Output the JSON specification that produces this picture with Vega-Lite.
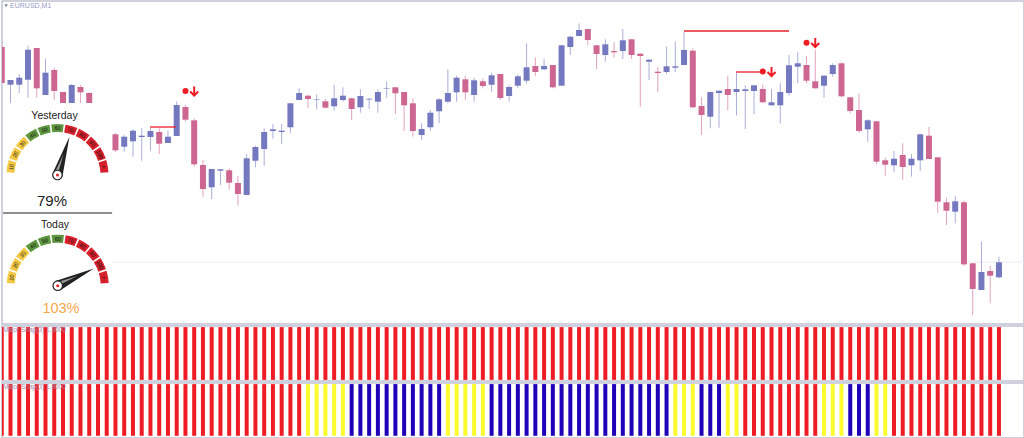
{"$schema":"https://vega.github.io/schema/vega-lite/v6.json","padding":{"left":1,"top":0,"right":0,"bottom":0},"background":"white","spacing":0,"resolve":{"scale":{"color":"independent","x":"independent","y":"independent"}},"config":{"view":{"stroke":"#c2c2d4","strokeWidth":1.5},"text":{"font":"Liberation Sans"},"concat":{"spacing":0}},
"datasets":{"candles":[
{"i":0,"o":953,"h":958,"l":917,"c":917,"d":"down"},{"i":1,"o":915.3,"h":920,"l":897,"c":920,"d":"up"},{"i":2,"o":915.3,"h":926,"l":907,"c":922.3,"d":"up"},{"i":3,"o":920.3,"h":954.3,"l":902.3,"c":950.3,"d":"up"},{"i":4,"o":952,"h":952,"l":902.3,"c":911.7,"d":"down"},{"i":5,"o":905,"h":941.3,"l":905,"c":927.3,"d":"up"},{"i":6,"o":930,"h":932.3,"l":900,"c":909,"d":"down"},{"i":7,"o":908,"h":908,"l":897,"c":897,"d":"down"},{"i":8,"o":897,"h":916,"l":897,"c":915,"d":"up"},{"i":9,"o":913,"h":915,"l":897,"c":907.7,"d":"down"},{"i":10,"o":907,"h":908,"l":897,"c":897,"d":"down"},
{"i":13,"o":865.7,"h":867,"l":848,"c":849.7,"d":"down"},{"i":14,"o":853.3,"h":865,"l":848.3,"c":863.3,"d":"up"},{"i":15,"o":858.7,"h":870.7,"l":843.3,"c":869.3,"d":"up"},{"i":16,"o":863,"h":871.7,"l":839.3,"c":864.3,"d":"up"},{"i":17,"o":863,"h":872.3,"l":849.3,"c":869,"d":"up"},{"i":18,"o":868,"h":871.7,"l":846,"c":856.3,"d":"down"},{"i":19,"o":857,"h":869.3,"l":857,"c":863.3,"d":"up"},{"i":20,"o":864,"h":898.3,"l":864,"c":895,"d":"up"},{"i":21,"o":893,"h":895,"l":878.3,"c":880.3,"d":"down"},{"i":22,"o":879.7,"h":881.7,"l":833.3,"c":835.7,"d":"down"},{"i":23,"o":835,"h":840,"l":803.3,"c":811,"d":"down"},{"i":24,"o":812.7,"h":831,"l":801,"c":831,"d":"up"},{"i":25,"o":829.3,"h":830.7,"l":815,"c":830.7,"d":"up"},{"i":26,"o":829.7,"h":831.7,"l":810.7,"c":817.3,"d":"down"},{"i":27,"o":817,"h":824,"l":794.3,"c":806,"d":"down"},{"i":28,"o":805,"h":846,"l":805,"c":841.7,"d":"up"},{"i":29,"o":839.3,"h":854.3,"l":832.7,"c":853,"d":"up"},{"i":30,"o":851,"h":871.7,"l":834.3,"c":868,"d":"up"},{"i":31,"o":869,"h":876,"l":861.3,"c":870.7,"d":"up"},{"i":32,"o":868,"h":876,"l":856,"c":869.3,"d":"up"},{"i":33,"o":872.7,"h":896.7,"l":866.7,"c":896.7,"d":"up"},{"i":34,"o":900,"h":911.7,"l":900,"c":907,"d":"up"},{"i":35,"o":904.3,"h":905,"l":891.7,"c":901,"d":"down"},{"i":36,"o":900.3,"h":905.7,"l":890.7,"c":900.8,"d":"up"},{"i":37,"o":898.7,"h":901,"l":891.7,"c":892.3,"d":"down"},{"i":38,"o":893.7,"h":915,"l":889.3,"c":901.7,"d":"up"},{"i":39,"o":900,"h":912.7,"l":898.3,"c":904.3,"d":"up"},
{"i":40,"o":901.7,"h":902.3,"l":880,"c":891,"d":"down"},{"i":41,"o":892.7,"h":910.7,"l":887.3,"c":904,"d":"up"},{"i":42,"o":900.5,"h":901.7,"l":891,"c":901.3,"d":"up"},{"i":43,"o":898.3,"h":910.7,"l":887.3,"c":908,"d":"up"},{"i":44,"o":911.2,"h":918.3,"l":902.3,"c":911.7,"d":"up"},{"i":45,"o":912.7,"h":912.7,"l":886,"c":906.7,"d":"down"},{"i":46,"o":908,"h":908,"l":869,"c":894.7,"d":"down"},{"i":47,"o":896.7,"h":901.7,"l":863.3,"c":869,"d":"down"},{"i":48,"o":865,"h":876.7,"l":860,"c":871,"d":"up"},{"i":49,"o":872.7,"h":890,"l":869.3,"c":887.3,"d":"up"},{"i":50,"o":888.7,"h":901.7,"l":876.7,"c":900.7,"d":"up"},{"i":51,"o":898.3,"h":930.7,"l":896.7,"c":907,"d":"up"},{"i":52,"o":907.7,"h":924.3,"l":898.3,"c":922.3,"d":"up"},{"i":53,"o":920.7,"h":924.3,"l":900,"c":907.7,"d":"down"},{"i":54,"o":905,"h":922.3,"l":898.3,"c":919.7,"d":"up"},{"i":55,"o":918.7,"h":921.7,"l":911.7,"c":914,"d":"down"},{"i":56,"o":915.3,"h":927.3,"l":908.3,"c":924.7,"d":"up"},{"i":57,"o":926,"h":926,"l":900.3,"c":902,"d":"down"},{"i":58,"o":904,"h":914.7,"l":898.3,"c":913,"d":"up"},{"i":59,"o":914.3,"h":925.3,"l":911.7,"c":923.7,"d":"up"},{"i":60,"o":919.3,"h":956.7,"l":916.7,"c":932.7,"d":"up"},{"i":61,"o":934,"h":942.7,"l":924.3,"c":928,"d":"down"},{"i":62,"o":930.7,"h":941,"l":930,"c":934,"d":"up"},{"i":63,"o":935,"h":935,"l":911.7,"c":912.7,"d":"down"},{"i":64,"o":914.3,"h":954.7,"l":914.3,"c":954.7,"d":"up"},{"i":65,"o":953,"h":964,"l":945,"c":963.3,"d":"up"},{"i":66,"o":964,"h":976.7,"l":964,"c":970,"d":"up"},{"i":67,"o":971,"h":971,"l":955,"c":960,"d":"down"},{"i":68,"o":954.7,"h":954.7,"l":930.7,"c":946,"d":"down"},{"i":69,"o":945,"h":960.7,"l":938.3,"c":955.7,"d":"up"},{"i":70,"o":949,"h":958.3,"l":942.3,"c":947.7,"d":"down"},{"i":71,"o":949,"h":971,"l":941,"c":959.7,"d":"up"},{"i":72,"o":960.7,"h":960.7,"l":941,"c":945,"d":"down"},{"i":73,"o":946.3,"h":946.7,"l":893.3,"c":944,"d":"down"},{"i":74,"o":938.3,"h":941,"l":920,"c":940.3,"d":"up"},{"i":75,"o":928.3,"h":932.7,"l":908,"c":927,"d":"down"},{"i":76,"o":928,"h":953.3,"l":926,"c":933.7,"d":"up"},{"i":77,"o":932.3,"h":958.3,"l":928,"c":933.7,"d":"up"},{"i":78,"o":935,"h":968.3,"l":935,"c":950,"d":"up"},{"i":79,"o":949.3,"h":951.7,"l":891.7,"c":892.7,"d":"down"},
{"i":80,"o":894,"h":902.7,"l":865,"c":885,"d":"down"},{"i":81,"o":883.3,"h":908,"l":871.7,"c":908,"d":"up"},{"i":82,"o":907,"h":909.3,"l":872.3,"c":909.3,"d":"up"},{"i":83,"o":911,"h":924.3,"l":890,"c":905,"d":"down"},{"i":84,"o":908,"h":927.7,"l":884.7,"c":911,"d":"up"},{"i":85,"o":909,"h":914.7,"l":871,"c":910.7,"d":"up"},{"i":86,"o":909,"h":914.7,"l":885.7,"c":914.7,"d":"up"},{"i":87,"o":911,"h":915.3,"l":897.3,"c":897.7,"d":"down"},{"i":88,"o":894.7,"h":911,"l":894.7,"c":897.7,"d":"up"},{"i":89,"o":894.7,"h":916.7,"l":876.7,"c":908,"d":"up"},{"i":90,"o":907,"h":945,"l":904.3,"c":934.7,"d":"up"},{"i":91,"o":933.3,"h":947.7,"l":916.7,"c":936.7,"d":"up"},{"i":92,"o":935,"h":944,"l":916.7,"c":919.3,"d":"down"},{"i":93,"o":918.7,"h":950,"l":911.7,"c":911.7,"d":"down"},{"i":94,"o":914.3,"h":925,"l":902.3,"c":924.3,"d":"up"},{"i":95,"o":926,"h":936.7,"l":923.3,"c":935,"d":"up"},{"i":96,"o":936.7,"h":937.7,"l":902.7,"c":903.7,"d":"down"},{"i":97,"o":902.7,"h":902.7,"l":886.7,"c":889,"d":"down"},{"i":98,"o":890,"h":906.7,"l":867.3,"c":869,"d":"down"},{"i":99,"o":870.7,"h":880.7,"l":858.3,"c":879.7,"d":"up"},{"i":100,"o":878.7,"h":879.3,"l":836,"c":838.3,"d":"down"},{"i":101,"o":839.7,"h":842.3,"l":824.3,"c":835.3,"d":"down"},{"i":102,"o":834.7,"h":849,"l":828,"c":841.3,"d":"up"},{"i":103,"o":845,"h":856.7,"l":820.3,"c":833,"d":"down"},{"i":104,"o":834.7,"h":846,"l":823.3,"c":841.3,"d":"up"},{"i":105,"o":839.7,"h":866.3,"l":829,"c":865.7,"d":"up"},{"i":106,"o":864.3,"h":873,"l":841,"c":841,"d":"down"},{"i":107,"o":842.7,"h":842.7,"l":787.3,"c":798.3,"d":"down"},{"i":108,"o":797.7,"h":802.3,"l":775,"c":789.3,"d":"down"},{"i":109,"o":788.3,"h":804,"l":776.7,"c":798.7,"d":"up"},{"i":110,"o":797.7,"h":799.3,"l":734,"c":735.7,"d":"down"},{"i":111,"o":736.7,"h":736.7,"l":685,"c":711,"d":"down"},{"i":112,"o":710,"h":758.3,"l":710,"c":728,"d":"up"},{"i":113,"o":729,"h":734,"l":696.7,"c":724.3,"d":"down"},{"i":114,"o":722.7,"h":743.3,"l":721.7,"c":737.7,"d":"up"}],
"levels":[{"from":16.95,"to":19.92,"p":873},{"from":78,"to":90,"p":969},{"from":83.94,"to":87.26,"p":928}],
"signals":[{"i":21,"p":909},{"i":87,"p":928.5},{"i":92,"p":957.3}],
"arrows":[{"i":22,"p":909},{"i":88,"p":928.5},{"i":93,"p":957.5}],
"gauges":[{"g":"Yesterday","cx":6.37,"cy":825,"needle":17.4},{"g":"Today","cx":6.4,"cy":714.3,"needle":64.6}],
"segments":[
{"cx":6.37,"cy":825,"a":-80,"a0":-87,"a1":-73,"t":"10","band":"low"},{"cx":6.37,"cy":825,"a":-64,"a0":-71,"a1":-57,"t":"20","band":"low"},{"cx":6.37,"cy":825,"a":-48,"a0":-55,"a1":-41,"t":"30","band":"low"},{"cx":6.37,"cy":825,"a":-32,"a0":-39,"a1":-25,"t":"40","band":"mid"},{"cx":6.37,"cy":825,"a":-16,"a0":-23,"a1":-9,"t":"50","band":"mid"},{"cx":6.37,"cy":825,"a":0,"a0":-7,"a1":7,"t":"60","band":"mid"},{"cx":6.37,"cy":825,"a":16,"a0":9,"a1":23,"t":"70","band":"high"},{"cx":6.37,"cy":825,"a":32,"a0":25,"a1":39,"t":"80","band":"high"},{"cx":6.37,"cy":825,"a":48,"a0":41,"a1":55,"t":"90","band":"high"},{"cx":6.37,"cy":825,"a":64,"a0":57,"a1":71,"t":"100","band":"high"},{"cx":6.37,"cy":825,"a":80,"a0":73,"a1":87,"t":"+","band":"high"},
{"cx":6.4,"cy":714.3,"a":-80,"a0":-87,"a1":-73,"t":"10","band":"low"},{"cx":6.4,"cy":714.3,"a":-64,"a0":-71,"a1":-57,"t":"20","band":"low"},{"cx":6.4,"cy":714.3,"a":-48,"a0":-55,"a1":-41,"t":"30","band":"low"},{"cx":6.4,"cy":714.3,"a":-32,"a0":-39,"a1":-25,"t":"40","band":"mid"},{"cx":6.4,"cy":714.3,"a":-16,"a0":-23,"a1":-9,"t":"50","band":"mid"},{"cx":6.4,"cy":714.3,"a":0,"a0":-7,"a1":7,"t":"60","band":"mid"},{"cx":6.4,"cy":714.3,"a":16,"a0":9,"a1":23,"t":"70","band":"high"},{"cx":6.4,"cy":714.3,"a":32,"a0":25,"a1":39,"t":"80","band":"high"},{"cx":6.4,"cy":714.3,"a":48,"a0":41,"a1":55,"t":"90","band":"high"},{"cx":6.4,"cy":714.3,"a":64,"a0":57,"a1":71,"t":"100","band":"high"},{"cx":6.4,"cy":714.3,"a":80,"a0":73,"a1":87,"t":"+","band":"high"}],
"panel1":[{"i":0},{"i":1},{"i":2},{"i":3},{"i":4},{"i":5},{"i":6},{"i":7},{"i":8},{"i":9},{"i":10},{"i":11},{"i":12},{"i":13},{"i":14},{"i":15},{"i":16},{"i":17},{"i":18},{"i":19},{"i":20},{"i":21},{"i":22},{"i":23},{"i":24},{"i":25},{"i":26},{"i":27},{"i":28},{"i":29},{"i":30},{"i":31},{"i":32},{"i":33},{"i":34},{"i":35},{"i":36},{"i":37},{"i":38},{"i":39},{"i":40},{"i":41},{"i":42},{"i":43},{"i":44},{"i":45},{"i":46},{"i":47},{"i":48},{"i":49},{"i":50},{"i":51},{"i":52},{"i":53},{"i":54},{"i":55},{"i":56},{"i":57},{"i":58},{"i":59},{"i":60},{"i":61},{"i":62},{"i":63},{"i":64},{"i":65},{"i":66},{"i":67},{"i":68},{"i":69},{"i":70},{"i":71},{"i":72},{"i":73},{"i":74},{"i":75},{"i":76},{"i":77},{"i":78},{"i":79},{"i":80},{"i":81},{"i":82},{"i":83},{"i":84},{"i":85},{"i":86},{"i":87},{"i":88},{"i":89},{"i":90},{"i":91},{"i":92},{"i":93},{"i":94},{"i":95},{"i":96},{"i":97},{"i":98},{"i":99},{"i":100},{"i":101},{"i":102},{"i":103},{"i":104},{"i":105},{"i":106},{"i":107},{"i":108},{"i":109},{"i":110},{"i":111},{"i":112},{"i":113},{"i":114}],
"panel2":[{"i":0,"s":"r"},{"i":1,"s":"r"},{"i":2,"s":"r"},{"i":3,"s":"r"},{"i":4,"s":"r"},{"i":5,"s":"r"},{"i":6,"s":"r"},{"i":7,"s":"r"},{"i":8,"s":"r"},{"i":9,"s":"r"},{"i":10,"s":"r"},{"i":11,"s":"r"},{"i":12,"s":"r"},{"i":13,"s":"r"},{"i":14,"s":"r"},{"i":15,"s":"r"},{"i":16,"s":"r"},{"i":17,"s":"r"},{"i":18,"s":"r"},{"i":19,"s":"r"},{"i":20,"s":"r"},{"i":21,"s":"r"},{"i":22,"s":"r"},{"i":23,"s":"r"},{"i":24,"s":"r"},{"i":25,"s":"r"},{"i":26,"s":"r"},{"i":27,"s":"r"},{"i":28,"s":"r"},{"i":29,"s":"r"},{"i":30,"s":"r"},{"i":31,"s":"r"},{"i":32,"s":"r"},{"i":33,"s":"r"},{"i":34,"s":"r"},{"i":35,"s":"y"},{"i":36,"s":"y"},{"i":37,"s":"y"},{"i":38,"s":"y"},{"i":39,"s":"y"},{"i":40,"s":"b"},{"i":41,"s":"b"},{"i":42,"s":"b"},{"i":43,"s":"b"},{"i":44,"s":"b"},{"i":45,"s":"b"},{"i":46,"s":"b"},{"i":47,"s":"b"},{"i":48,"s":"b"},{"i":49,"s":"b"},{"i":50,"s":"b"},{"i":51,"s":"y"},{"i":52,"s":"y"},{"i":53,"s":"y"},{"i":54,"s":"y"},{"i":55,"s":"y"},{"i":56,"s":"b"},{"i":57,"s":"b"},{"i":58,"s":"b"},{"i":59,"s":"b"},{"i":60,"s":"b"},{"i":61,"s":"b"},{"i":62,"s":"b"},{"i":63,"s":"b"},{"i":64,"s":"b"},{"i":65,"s":"b"},{"i":66,"s":"b"},{"i":67,"s":"b"},{"i":68,"s":"b"},{"i":69,"s":"b"},{"i":70,"s":"b"},{"i":71,"s":"b"},{"i":72,"s":"b"},{"i":73,"s":"b"},{"i":74,"s":"b"},{"i":75,"s":"b"},{"i":76,"s":"b"},{"i":77,"s":"y"},{"i":78,"s":"y"},{"i":79,"s":"y"},{"i":80,"s":"b"},{"i":81,"s":"b"},{"i":82,"s":"b"},{"i":83,"s":"y"},{"i":84,"s":"y"},{"i":85,"s":"r"},{"i":86,"s":"r"},{"i":87,"s":"r"},{"i":88,"s":"r"},{"i":89,"s":"r"},{"i":90,"s":"r"},{"i":91,"s":"r"},{"i":92,"s":"r"},{"i":93,"s":"r"},{"i":94,"s":"y"},{"i":95,"s":"y"},{"i":96,"s":"y"},{"i":97,"s":"b"},{"i":98,"s":"b"},{"i":99,"s":"b"},{"i":100,"s":"y"},{"i":101,"s":"y"},{"i":102,"s":"r"},{"i":103,"s":"r"},{"i":104,"s":"r"},{"i":105,"s":"r"},{"i":106,"s":"r"},{"i":107,"s":"r"},{"i":108,"s":"r"},{"i":109,"s":"r"},{"i":110,"s":"r"},{"i":111,"s":"r"},{"i":112,"s":"r"},{"i":113,"s":"r"},{"i":114,"s":"r"}]},
"vconcat":[
{"width":1022,"height":323,"layer":[
{"data":{"values":[{"from":12.6,"to":116.86,"p":738}]},"mark":{"type":"rule","color":"#ececf2","strokeWidth":1},"encoding":{"x":{"field":"from","type":"quantitative","scale":{"domain":[0.028,116.864],"nice":false,"zero":false,"padding":0},"axis":null},"x2":{"field":"to"},"y":{"field":"p","type":"quantitative","scale":{"domain":[676,999],"nice":false,"zero":false,"padding":0},"axis":{"orient":"right","values":[992,972.8,953.6,934.4,915.2,896,876.8,857.6,838.4,819.2,800,780.8,761.6,742.4,723.2,704,684.8],"labels":false,"domain":false,"grid":false,"title":null,"ticks":true,"tickSize":1,"tickColor":"#c2c2d4"}}}},
{"data":{"name":"candles"},"mark":{"type":"rule","strokeWidth":1,"opacity":0.6,"clip":true},"encoding":{"x":{"field":"i","type":"quantitative","axis":null},"y":{"field":"l","type":"quantitative","axis":null},"y2":{"field":"h"},"color":{"field":"d","type":"nominal","scale":{"domain":["up","down"],"range":["#7378bf","#cd6690"]},"legend":null}}},
{"data":{"name":"candles"},"mark":{"type":"bar","size":6,"cornerRadius":0,"clip":true},"encoding":{"x":{"field":"i","type":"quantitative","axis":null},"y":{"field":"o","type":"quantitative","axis":null},"y2":{"field":"c"},"color":{"field":"d","type":"nominal","legend":null}}},
{"data":{"name":"levels"},"mark":{"type":"rule","color":"#e8202a","strokeWidth":1.3},"encoding":{"x":{"field":"from","type":"quantitative","axis":null},"x2":{"field":"to"},"y":{"field":"p","type":"quantitative","axis":null}}},
{"data":{"name":"signals"},"mark":{"type":"point","shape":"circle","filled":true,"opacity":1,"color":"#ee1c25","size":36},"encoding":{"x":{"field":"i","type":"quantitative","axis":null},"y":{"field":"p","type":"quantitative","axis":null}}},
{"data":{"name":"arrows"},"mark":{"type":"point","shape":"M0 -1 L0 1 M-0.9 0.1 L0 1 L0.9 0.1","filled":false,"opacity":1,"stroke":"#ee1c25","strokeWidth":2,"size":81},"encoding":{"x":{"field":"i","type":"quantitative","axis":null},"y":{"field":"p","type":"quantitative","axis":null}}},
{"data":{"name":"segments"},"mark":{"type":"arc","radius":51,"radius2":43},"encoding":{"x":{"field":"cx","type":"quantitative","axis":null},"y":{"field":"cy","type":"quantitative","axis":null},"theta":{"field":"a0","type":"quantitative","stack":null,"scale":{"domain":[-180,180],"range":[-3.14159265,3.14159265]}},"theta2":{"field":"a1"},"fill":{"field":"band","type":"nominal","scale":{"domain":["low","mid","high"],"range":["#f3c945","#5f9640","#d6202c"]},"legend":null}}},
{"data":{"name":"segments"},"mark":{"type":"text","radius":47,"fontSize":5.5,"color":"#111","align":"center","baseline":"middle"},"encoding":{"x":{"field":"cx","type":"quantitative","axis":null},"y":{"field":"cy","type":"quantitative","axis":null},"theta":{"field":"a","type":"quantitative","stack":null},"angle":{"field":"a","type":"quantitative","scale":null},"text":{"field":"t"}}},
{"data":{"name":"gauges"},"mark":{"type":"point","shape":"M-0.13 0 L0 -1 L0.13 0 Z","filled":true,"opacity":1,"color":"#222222","size":6400},"encoding":{"x":{"field":"cx","type":"quantitative","axis":null},"y":{"field":"cy","type":"quantitative","axis":null},"angle":{"field":"needle","type":"quantitative","scale":null}}},
{"data":{"name":"gauges"},"mark":{"type":"point","shape":"M-0.09 0 L-0.01 -0.55 L0 0 Z","filled":true,"opacity":0.8,"color":"#b5b5b5","size":6400},"encoding":{"x":{"field":"cx","type":"quantitative","axis":null},"y":{"field":"cy","type":"quantitative","axis":null},"angle":{"field":"needle","type":"quantitative","scale":null}}},
{"data":{"name":"gauges"},"mark":{"type":"point","shape":"circle","filled":true,"opacity":1,"fill":"white","stroke":"#222","strokeWidth":1.2,"size":90},"encoding":{"x":{"field":"cx","type":"quantitative","axis":null},"y":{"field":"cy","type":"quantitative","axis":null}}},
{"data":{"name":"gauges"},"mark":{"type":"point","shape":"circle","filled":true,"opacity":1,"color":"#e2232b","size":9},"encoding":{"x":{"field":"cx","type":"quantitative","axis":null},"y":{"field":"cy","type":"quantitative","axis":null}}},
{"data":{"values":[{"from":0.15,"to":12.62,"p":787}]},"mark":{"type":"rule","color":"#222","strokeWidth":1},"encoding":{"x":{"field":"from","type":"quantitative","axis":null},"x2":{"field":"to"},"y":{"field":"p","type":"quantitative","axis":null}}},
{"data":{"values":[{"t":"Yesterday","x":6.03,"p":884.3},{"t":"Today","x":6.09,"p":775.3}]},"mark":{"type":"text","fontSize":10.5,"color":"#222","align":"center","baseline":"middle"},"encoding":{"x":{"field":"x","type":"quantitative","axis":null},"y":{"field":"p","type":"quantitative","axis":null},"text":{"field":"t"}}},
{"data":{"values":[{"t":"79%","x":5.74,"p":799}]},"mark":{"type":"text","fontSize":15,"color":"#222","align":"center","baseline":"middle"},"encoding":{"x":{"field":"x","type":"quantitative","axis":null},"y":{"field":"p","type":"quantitative","axis":null},"text":{"field":"t"}}},
{"data":{"values":[{"t":"103%","x":6.77,"p":691}]},"mark":{"type":"text","fontSize":14.5,"color":"#f4a84c","align":"center","baseline":"middle"},"encoding":{"x":{"field":"x","type":"quantitative","axis":null},"y":{"field":"p","type":"quantitative","axis":null},"text":{"field":"t"}}},
{"data":{"values":[{"t":"EURUSD,M1","x":0.95,"p":994.3}]},"mark":{"type":"text","fontSize":7,"color":"#9a9ac4","align":"left","baseline":"middle"},"encoding":{"x":{"field":"x","type":"quantitative","axis":null},"y":{"field":"p","type":"quantitative","axis":null},"text":{"field":"t"}}},
{"data":{"values":[{"x":0.5,"p":994.3}]},"mark":{"type":"point","shape":"triangle-down","filled":true,"opacity":1,"color":"#8080a8","size":12},"encoding":{"x":{"field":"x","type":"quantitative","axis":null},"y":{"field":"p","type":"quantitative","axis":null}}}
]},
{"width":1022,"height":55,"layer":[
{"data":{"name":"panel1"},"mark":{"type":"bar","size":4,"color":"#ef1c26","clip":true},"encoding":{"x":{"field":"i","type":"quantitative","scale":{"domain":[0.028,116.864],"nice":false,"zero":false,"padding":0},"axis":null},"y":{"datum":0.02,"type":"quantitative","scale":{"domain":[0,1],"nice":false},"axis":null},"y2":{"datum":0.98}}},
{"data":{"values":[{"t":"Major Snap(3) 1.8000","x":0.14,"p":0.92}]},"mark":{"type":"text","fontSize":6.5,"color":"#a58aa8","align":"left","baseline":"middle"},"encoding":{"x":{"field":"x","type":"quantitative","axis":null},"y":{"field":"p","type":"quantitative","axis":null},"text":{"field":"t"}}}
]},
{"width":1022,"height":55,"layer":[
{"data":{"name":"panel2"},"mark":{"type":"bar","size":4,"clip":true},"encoding":{"x":{"field":"i","type":"quantitative","scale":{"domain":[0.028,116.864],"nice":false,"zero":false,"padding":0},"axis":{"values":[4,8,12,16,20,24,28,32,36,40,44,48,52,56,60,64,68,72,76,80,84,88,92,96,100,104,108,112,116],"labels":false,"domain":false,"grid":false,"title":null,"ticks":true,"tickSize":2,"tickColor":"#c2c2d4"}},"y":{"datum":0.04,"type":"quantitative","scale":{"domain":[0,1],"nice":false},"axis":null},"y2":{"datum":0.98},"color":{"field":"s","type":"nominal","scale":{"domain":["r","y","b"],"range":["#ef1c26","#fbfb2e","#1f00b8"]},"legend":null}}},
{"data":{"values":[{"t":"Major Snap(3) 1.8000","x":0.14,"p":0.92}]},"mark":{"type":"text","fontSize":6.5,"color":"#a58aa8","align":"left","baseline":"middle"},"encoding":{"x":{"field":"x","type":"quantitative","axis":null},"y":{"field":"p","type":"quantitative","axis":null},"text":{"field":"t"}}}
]}
]}
